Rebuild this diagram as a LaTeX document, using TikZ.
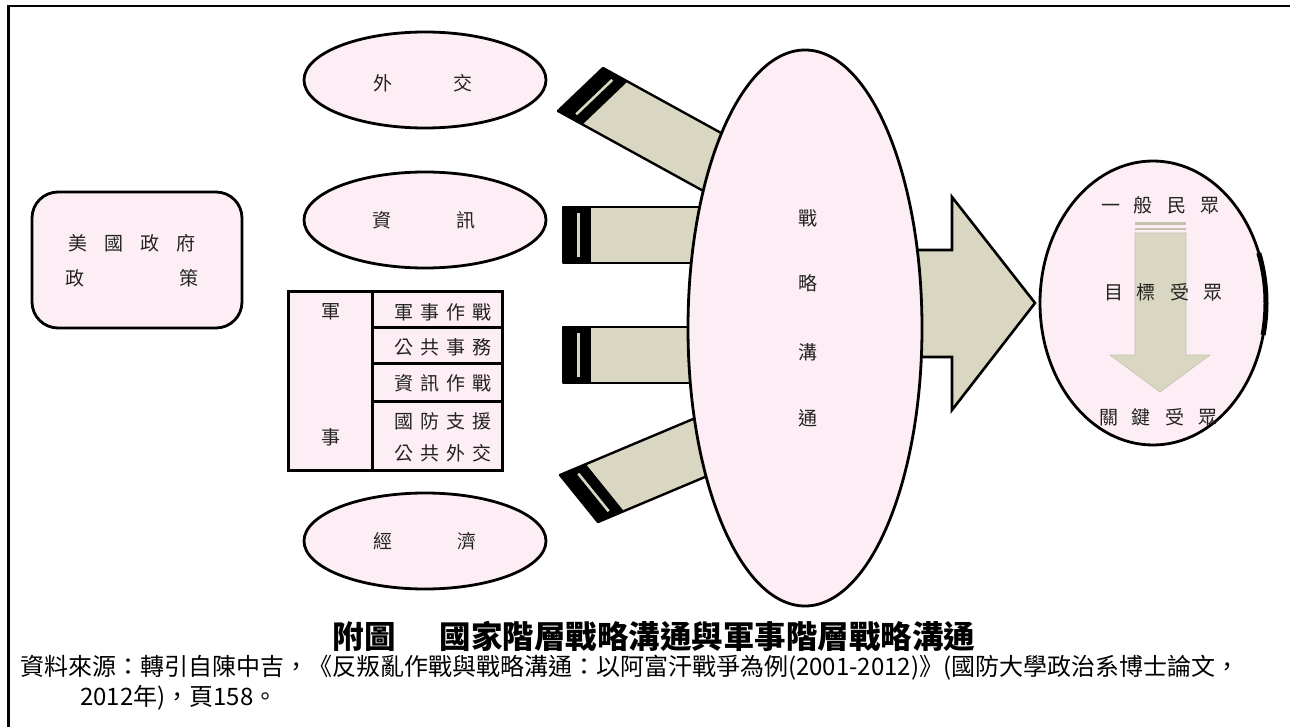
\documentclass[tikz,border=0pt]{standalone}
\usepackage{fontspec}
\setmainfont{Noto Sans CJK TC}
\usetikzlibrary{calc}
\definecolor{pinkfill}{RGB}{253,237,244}
\definecolor{beige}{RGB}{217,215,193}
\definecolor{beigedark}{RGB}{196,194,174}
\definecolor{txt}{RGB}{35,35,35}
\newcommand{\stripearrow}[5]{%
 \coordinate (sa) at (#1); \coordinate (sb) at (#2);
 \fill[beige] (sa) -- (sb) -- ($(sb)+({#5*(#3)},{#5*(#4)})$) -- ($(sa)+({#5*(#3)},{#5*(#4)})$) -- cycle;
 \fill[black] (sa) -- (sb) -- ($(sb)+({28*(#3)},{28*(#4)})$) -- ($(sa)+({28*(#3)},{28*(#4)})$) -- cycle;
 \draw[beige, line width=2.6pt] ($(sa)!0.1!(sb)+({15.7*(#3)},{15.7*(#4)})$) -- ($(sa)!0.9!(sb)+({15.7*(#3)},{15.7*(#4)})$);
 \draw[line width=2.4pt, line join=round] (sa) -- (sb) -- ($(sb)+({#5*(#3)},{#5*(#4)})$) -- ($(sa)+({#5*(#3)},{#5*(#4)})$) -- cycle;
}
\newcommand{\g}[1]{\hspace{#1pt}}
\begin{document}
\begin{tikzpicture}[x=1pt,y=-1pt,
  shapeline/.style={line width=2.8pt},
  pinkshape/.style={shapeline, fill=pinkfill},
  lbl/.style={inner sep=0pt, text=txt, font=\fontsize{19}{21}\selectfont},
  tbl/.style={inner sep=0pt, text=txt, font=\fontsize{19}{21}\selectfont}]
\useasboundingbox (0,0) rectangle (1290,727);
% frame
\draw[line width=2.5pt] (8.5,727) -- (8.5,6) -- (1290,6);
% striped arrows
\stripearrow{558,111}{603,68}{0.876}{0.482}{190}
\stripearrow{563,263}{563,207}{1}{0}{180}
\stripearrow{563,383}{563,327}{1}{0}{180}
\stripearrow{598,522}{560,475}{0.922}{-0.388}{190}
% big arrow
\draw[line width=2.6pt, fill=beige, line join=miter] (900,250) -- (952,250) -- (952,197) -- (1035,303) -- (952,410) -- (952,357) -- (900,357) -- cycle;
% small ellipses
\draw[pinkshape] (425,80) ellipse [x radius=121, y radius=48];
\draw[pinkshape] (425,220) ellipse [x radius=121, y radius=48];
\draw[pinkshape] (425,541) ellipse [x radius=121, y radius=48];
% policy box
\draw[pinkshape, rounded corners=26pt] (32,192) rectangle (242,328);
% military table
\fill[pinkfill] (288,292) rectangle (502,470);
\draw[line width=3pt] (288,292) rectangle (502,470);
\draw[line width=3pt] (372,292) -- (372,470);
\draw[line width=3pt] (372,327) -- (502,327);
\draw[line width=3pt] (372,363) -- (502,363);
\draw[line width=3pt] (372,401) -- (502,401);
% central ellipse
\draw[pinkshape] (805,328) ellipse [x radius=117, y radius=278];
% right ellipse
\draw[pinkshape] (1153,303) ellipse [x radius=113, y radius=142];
\draw[line width=5pt] ($(1153,303)+({113*cos(-20.6)},{142*sin(-20.6)})$) arc[start angle=-20.6, end angle=13, x radius=113, y radius=142];
% inner arrow
\fill[beigedark] (1135,222) rectangle (1186,225.5);
\fill[beigedark] (1135,228) rectangle (1186,230.5);
\fill[beige, draw=beigedark, line width=0.6pt] (1135,233) -- (1186,233) -- (1186,355) -- (1210,355) -- (1160,392) -- (1110,355) -- (1135,355) -- cycle;
% labels
\node[lbl] (pol1) at (132,243) {美\g{17}國\g{17}政\g{17}府};
\node[lbl] (pol2) at (132,278) {政\g{95}策};
\node[lbl] (dip) at (423,83) {外\g{61}交};
\node[lbl] (inf) at (424,220) {資\g{65}訊};
\node[lbl] (eco) at (425,541) {經\g{65}濟};
\node[tbl] (mil1) at (331,312) {軍};
\node[tbl] (mil2) at (331,437) {事};
\node[tbl] (r1) at (443,312) {軍\g{7}事\g{7}作\g{7}戰};
\node[tbl] (r2) at (443,347) {公\g{7}共\g{7}事\g{7}務};
\node[tbl] (r3) at (443,383) {資\g{7}訊\g{7}作\g{7}戰};
\node[tbl] (r4) at (443,421) {國\g{7}防\g{7}支\g{7}援};
\node[tbl] (r5) at (443,453) {公\g{7}共\g{7}外\g{7}交};
\node[lbl] (s1) at (808,218) {戰};
\node[lbl] (s2) at (808,283) {略};
\node[lbl] (s3) at (808,352) {溝};
\node[lbl] (s4) at (808,418) {通};
\node[lbl] (a1) at (1160,205) {一\g{14}般\g{14}民\g{14}眾};
\node[lbl] (a2) at (1163,292) {目\g{14}標\g{14}受\g{14}眾};
\node[lbl] (a3) at (1158,417) {關\g{14}鍵\g{14}受\g{14}眾};
% caption
\node[inner sep=0pt, font=\fontsize{31.5}{33}\selectfont\bfseries] (title) at (654,636) {附圖\g{44}國家階層戰略溝通與軍事階層戰略溝通};
\node[inner sep=0pt, anchor=west, font=\fontsize{24}{26}\selectfont] (src1) at (20,668) {資料來源：轉引自陳中吉，《反叛亂作戰與戰略溝通：以阿富汗戰爭為例(2001-2012)》(國防大學政治系博士論文，};
\node[inner sep=0pt, anchor=west, font=\fontsize{24}{26}\selectfont] (src2) at (80,698) {2012年)，頁158。};
\end{tikzpicture}
\end{document}
